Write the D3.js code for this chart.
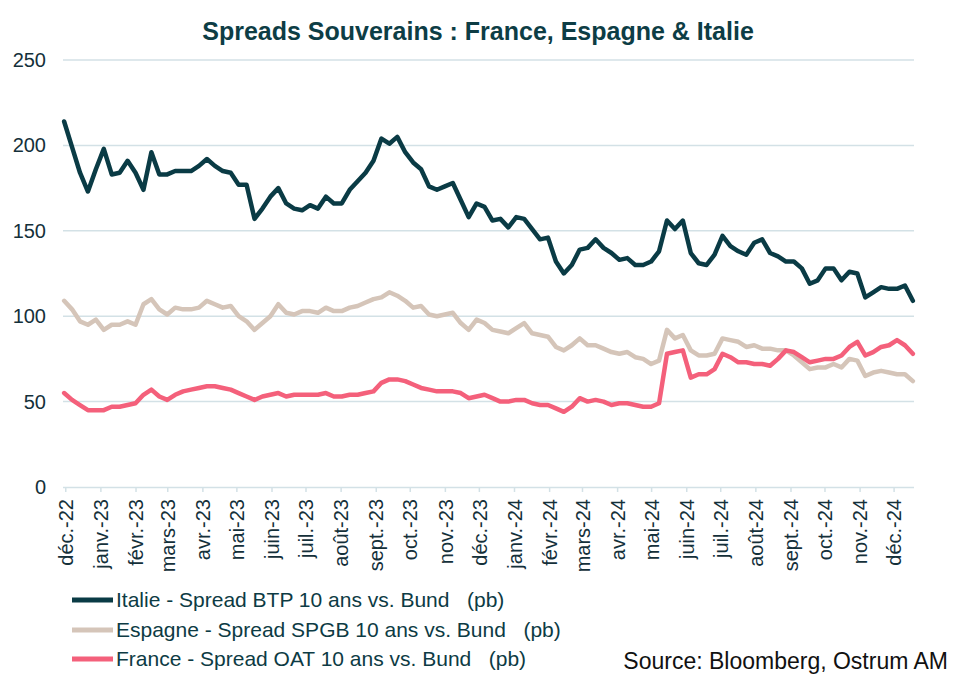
<!DOCTYPE html>
<html>
<head>
<meta charset="utf-8">
<script src="https://cdn.jsdelivr.net/npm/d3@7"></script>
<style>
  html, body { margin: 0; padding: 0; background: #ffffff; }
  svg { display: block; }
  .narrow { font-family: "Liberation Sans Narrow", "Arial Narrow", "Liberation Sans", Arial, sans-serif; font-stretch: condensed; }
  .tick-label { font-family: "Liberation Sans", Arial, sans-serif; }
</style>
</head>
<body>
<svg id="chart" width="958" height="686"></svg>
<script>
// ---------- DATA (weekly readings, pb) ----------
const startDate = "2022-11-30";
const monthLabels = ["déc.-22","janv.-23","févr.-23","mars-23","avr.-23","mai-23","juin-23","juil.-23","août-23","sept.-23","oct.-23","nov.-23","déc.-23",
  "janv.-24","févr.-24","mars-24","avr.-24","mai-24","juin-24","juil.-24","août-24","sept.-24","oct.-24","nov.-24","déc.-24"];
const yTicks = [0, 50, 100, 150, 200, 250];

const italie = [214,199,184,173,186,198,183,184,191,184,174,196,183,183,185,185,185,188,192,188,185,184,177,177,157,163,
  170,175,166,163,162,165,163,170,166,166,174,179,184,191,204,201,205,196,190,186,176,174,176,178,168,158,166,
  164,156,157,152,158,157,151,145,146,132,125,130,139,140,145,140,137,133,134,130,130,132,138,156,151,156,137,
  131,130,136,147,141,138,136,143,145,137,135,132,132,128,119,121,128,128,121,126,125,111,114,117,116,116,118,109];

const espagne = [109,104,97,95,98,92,95,95,97,95,107,110,104,101,105,104,104,105,109,107,105,106,100,97,92,96,
  100,107,102,101,103,103,102,105,103,103,105,106,108,110,111,114,112,109,105,106,101,100,101,102,96,92,98,
  96,92,91,90,93,96,90,89,88,82,80,83,87,83,83,81,79,78,79,76,75,72,74,92,87,89,80,
  77,77,78,87,86,85,82,83,81,81,80,80,77,73,69,70,70,72,70,75,74,65,67,68,67,66,66,62];

const france = [55,51,48,45,45,45,47,47,48,49,54,57,53,51,54,56,57,58,59,59,58,57,55,53,51,53,
  54,55,53,54,54,54,54,55,53,53,54,54,55,56,61,63,63,62,60,58,57,56,56,56,55,52,53,
  54,52,50,50,51,51,49,48,48,46,44,47,52,50,51,50,48,49,49,48,47,47,49,78,79,80,64,
  66,66,69,78,76,73,73,72,72,71,75,80,79,76,73,74,75,75,77,82,85,77,79,82,83,86,83,78];

const seriesNames = ["Italie - Spread BTP 10 ans vs. Bund   (pb)",
                     "Espagne - Spread SPGB 10 ans vs. Bund   (pb)",
                     "France - Spread OAT 10 ans vs. Bund   (pb)"];
const seriesColors = ["#0a3b45", "#d5c5b9", "#f4607b"];

// ---------- BUILD ----------
const svg = d3.select("#chart");
const parse = d3.timeParse("%Y-%m-%d");
const t0 = parse(startDate);
const dates = italie.map((_, i) => d3.timeDay.offset(t0, 7 * i));

const x = d3.scaleTime()
  .domain([parse("2022-11-29"), parse("2024-12-19")])
  .range([63, 914]);
const y = d3.scaleLinear().domain([0, 250]).range([487, 60]);

const gridColor = "#d3e1e6";

// title
svg.append("text")
  .attr("class", "narrow")
  .attr("x", 478).attr("y", 40)
  .attr("text-anchor", "middle")
  .attr("font-size", 25).attr("font-weight", "bold")
  .attr("fill", "#0d3d45")
  .text("Spreads Souverains : France, Espagne & Italie");

// gridlines
svg.append("g").selectAll("line")
  .data(yTicks.filter(d => d > 0))
  .join("line")
  .attr("x1", 63).attr("x2", 914)
  .attr("y1", d => y(d)).attr("y2", d => y(d))
  .attr("stroke", gridColor).attr("stroke-width", 1.5);

// y labels
svg.append("g").selectAll("text")
  .data(yTicks)
  .join("text")
  .attr("class", "tick-label")
  .attr("x", 46).attr("y", d => y(d))
  .attr("dy", "0.35em")
  .attr("text-anchor", "end")
  .attr("font-size", 20)
  .attr("fill", "#14303a")
  .text(d => d);

// x axis
const monthDates = d3.timeMonth.range(parse("2022-12-01"), parse("2024-12-02"));
const xAxis = d3.axisBottom(x)
  .tickValues(monthDates)
  .tickSize(5)
  .tickFormat((d, i) => monthLabels[i]);
const gx = svg.append("g").attr("transform", `translate(0,${y(0)})`).call(xAxis);
gx.select(".domain").attr("stroke", gridColor).attr("stroke-width", 1.5).attr("d", `M63,0.5H914`);
gx.selectAll(".tick line").attr("stroke", gridColor).attr("stroke-width", 1.5);
gx.selectAll(".tick text")
  .attr("class", "tick-label")
  .attr("font-family", "'Liberation Sans', Arial, sans-serif")
  .attr("font-size", 20)
  .attr("fill", "#14303a")
  .attr("transform", "rotate(-90)")
  .attr("text-anchor", "end")
  .attr("x", -12)
  .attr("y", 0)
  .attr("dy", "0.36em");

// lines
const line = d3.line()
  .x((d, i) => x(dates[i]))
  .y(d => y(d))
  .curve(d3.curveLinear);

[italie, espagne, france].forEach((s, k) => {
  svg.append("path")
    .datum(s)
    .attr("d", line)
    .attr("fill", "none")
    .attr("stroke", seriesColors[k])
    .attr("stroke-width", 4.5)
    .attr("stroke-linejoin", "round")
    .attr("stroke-linecap", "round");
});

// legend
const legendY = [600, 630, 659];
const lg = svg.append("g");
seriesNames.forEach((name, k) => {
  lg.append("line")
    .attr("x1", 72).attr("x2", 113)
    .attr("y1", legendY[k]).attr("y2", legendY[k])
    .attr("stroke", seriesColors[k]).attr("stroke-width", 5);
  lg.append("text")
    .attr("class", "narrow")
    .attr("x", 116).attr("y", legendY[k])
    .attr("dy", "0.35em")
    .attr("font-size", 21)
    .attr("fill", "#0d3b44")
    .attr("xml:space", "preserve")
    .style("white-space", "pre")
    .text(name);
});

// source
svg.append("text")
  .attr("class", "narrow")
  .attr("x", 948).attr("y", 661)
  .attr("dy", "0.35em")
  .attr("text-anchor", "end")
  .attr("font-size", 23)
  .attr("fill", "#111111")
  .text("Source: Bloomberg, Ostrum AM");
</script>
</body>
</html>
